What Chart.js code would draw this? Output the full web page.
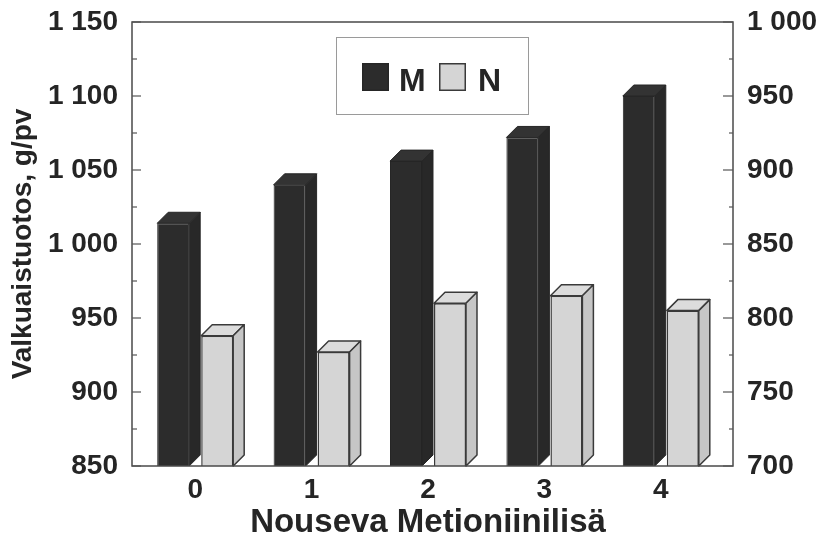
<!DOCTYPE html>
<html>
<head>
<meta charset="utf-8">
<script src="https://cdn.jsdelivr.net/npm/chart.js@4.4.0/dist/chart.umd.min.js"></script>
<style>
  html, body { margin: 0; padding: 0; background: #fff; }
  canvas { display: block; }
</style>
</head>
<body>
<canvas id="c" width="822" height="544"></canvas>
<script>
// Categories and series values
const categories = ['0', '1', '2', '3', '4'];
const seriesNames = ['M', 'N'];
const seriesM = [1014, 1040, 1056, 1072, 1100];
const seriesN = [788, 777, 810, 815, 805];
// Tick values of the two value axes
const leftTicks = [850, 900, 950, 1000, 1050, 1100, 1150];
const rightTicks = [700, 750, 800, 850, 900, 950, 1000];
const xTitle = 'Nouseva Metioniinilisä';
const yTitle = 'Valkuaistuotos, g/pv';

const FONT = '"Liberation Sans", Arial, Helvetica, sans-serif';
const INK = '#252525';
const DEPTH = 11;          // depth of the pseudo-3D columns
const FRAME_L = 5;         // frame sits this far left of the category band
const FRAME_R = 14;        // and this far right of it

function spaced(v) {
  return String(v).replace(/\B(?=(\d{3})+(?!\d))/g, '\u00a0');
}

function fixedTicks(list) {
  return scale => { scale.ticks = list.map(v => ({ value: v })); };
}

// fixed axis width; keep only half a label of vertical overhang
function fitWidth(w) {
  return scale => {
    scale.width = w;
    scale.paddingTop = 16;
    scale.paddingBottom = 16;
  };
}

// Top and side faces of each column, drawn from the bar elements' geometry
const columns3d = {
  id: 'columns3d',
  afterDatasetsDraw(chart) {
    const ctx = chart.ctx;
    const floor = chart.chartArea.bottom;
    chart.data.datasets.forEach((ds, i) => {
      const meta = chart.getDatasetMeta(i);
      meta.data.forEach(bar => {
        const p = bar.getProps(['x', 'y', 'base', 'width'], true);
        const x = p.x, y = p.y, w = p.width;
        const base = Math.min(p.base, floor);
        const l = x - w / 2, r = x + w / 2;
        ctx.save();
        ctx.lineWidth = ds.borderWidth;
        ctx.strokeStyle = ds.borderColor;
        ctx.lineJoin = 'round';
        ctx.beginPath();
        ctx.moveTo(l, y);
        ctx.lineTo(l + DEPTH, y - DEPTH);
        ctx.lineTo(r + DEPTH, y - DEPTH);
        ctx.lineTo(r, y);
        ctx.closePath();
        ctx.fillStyle = ds.topColor;
        ctx.fill();
        ctx.stroke();
        ctx.beginPath();
        ctx.moveTo(r, y);
        ctx.lineTo(r + DEPTH, y - DEPTH);
        ctx.lineTo(r + DEPTH, base - DEPTH);
        ctx.lineTo(r, base);
        ctx.closePath();
        ctx.fillStyle = ds.sideColor;
        ctx.fill();
        ctx.stroke();
        ctx.restore();
      });
    });
  }
};

// Plot frame, inward tick marks (major and half-step minor) and the boxed legend
const frameAndLegend = {
  id: 'frameAndLegend',
  afterDraw(chart) {
    const ctx = chart.ctx;
    const a = chart.chartArea;
    const L = a.left - FRAME_L, R = a.right + FRAME_R, T = a.top, B = a.bottom;
    ctx.save();
    ctx.strokeStyle = '#4a4a4a';
    ctx.lineWidth = 1.5;
    ctx.strokeRect(L, T, R - L, B - T);

    const yS = chart.scales.y, y2S = chart.scales.y2;
    ctx.lineWidth = 1.2;
    ctx.strokeStyle = '#555';
    const mark = (py, len) => {
      ctx.beginPath(); ctx.moveTo(L, py); ctx.lineTo(L + len, py); ctx.stroke();
    };
    const mark2 = (py, len) => {
      ctx.beginPath(); ctx.moveTo(R, py); ctx.lineTo(R - len, py); ctx.stroke();
    };
    leftTicks.forEach((v, k) => {
      mark(yS.getPixelForValue(v), 9);
      if (k > 0) mark(yS.getPixelForValue((v + leftTicks[k - 1]) / 2), 5);
    });
    rightTicks.forEach((v, k) => {
      mark2(y2S.getPixelForValue(v), 10);
      if (k > 0) mark2(y2S.getPixelForValue((v + rightTicks[k - 1]) / 2), 4);
    });

    // legend box
    ctx.lineWidth = 1;
    ctx.strokeStyle = '#9a9a9a';
    ctx.fillStyle = '#fff';
    ctx.fillRect(336.5, 37.5, 192, 77);
    ctx.strokeRect(336.5, 37.5, 192, 77);
    ctx.font = 'bold 32px ' + FONT;
    ctx.textBaseline = 'alphabetic';
    ctx.textAlign = 'left';
    const items = [
      { sx: 362, tx: 399 },
      { sx: 439, tx: 478 }
    ];
    chart.data.datasets.forEach((ds, i) => {
      const it = items[i];
      ctx.fillStyle = ds.backgroundColor;
      ctx.fillRect(it.sx, 63, 27, 28);
      ctx.lineWidth = 1.5;
      ctx.strokeStyle = ds.borderColor;
      ctx.strokeRect(it.sx + 0.75, 63.75, 25.5, 26.5);
      ctx.fillStyle = INK;
      ctx.fillText(ds.label, it.tx, 90.5);
    });
    ctx.restore();
  }
};

const tickFont = { family: FONT, size: 28, weight: 'bold' };

new Chart(document.getElementById('c'), {
  type: 'bar',
  data: {
    labels: categories,
    datasets: [
      {
        label: seriesNames[0],
        data: seriesM,
        yAxisID: 'y',
        backgroundColor: '#2c2c2c',
        borderColor: '#262626',
        topColor: '#333333',
        sideColor: '#282828',
        borderWidth: 1,
        borderSkipped: false,
        categoryPercentage: 0.756,
        barPercentage: 0.727
      },
      {
        label: seriesNames[1],
        data: seriesN,
        yAxisID: 'y2',
        backgroundColor: '#d5d5d5',
        borderColor: '#3a3a3a',
        topColor: '#dcdcdc',
        sideColor: '#c6c6c6',
        borderWidth: 1.5,
        borderSkipped: false,
        categoryPercentage: 0.756,
        barPercentage: 0.727
      }
    ]
  },
  options: {
    responsive: false,
    animation: false,
    layout: { padding: { top: 22, left: 0, right: 0, bottom: 0 } },
    plugins: {
      legend: { display: false },
      tooltip: { enabled: false }
    },
    scales: {
      x: {
        grid: { display: false, drawTicks: false },
        border: { display: false },
        ticks: { color: INK, font: tickFont, padding: 7, maxRotation: 0 },
        title: {
          display: true, text: xTitle, color: INK,
          font: { family: FONT, size: 33, weight: 'bold' },
          padding: { top: 0, bottom: 1 }
        },
        afterFit: s => { s.height = 78; }
      },
      y: {
        position: 'left',
        min: leftTicks[0],
        max: leftTicks[leftTicks.length - 1],
        afterBuildTicks: fixedTicks(leftTicks),
        grid: { display: false, drawTicks: false },
        border: { display: false },
        ticks: { color: INK, font: tickFont, padding: 19, callback: v => spaced(v) },
        title: {
          display: true, text: yTitle, color: INK,
          font: { family: FONT, size: 28, weight: 'bold' },
          padding: { top: 6, bottom: 0 }
        },
        afterFit: fitWidth(137)
      },
      y2: {
        position: 'right',
        min: rightTicks[0],
        max: rightTicks[rightTicks.length - 1],
        afterBuildTicks: fixedTicks(rightTicks),
        grid: { display: false, drawTicks: false },
        border: { display: false },
        ticks: { color: INK, font: tickFont, padding: 28, callback: v => spaced(v) },
        afterFit: fitWidth(103)
      }
    }
  },
  plugins: [columns3d, frameAndLegend]
});
</script>
</body>
</html>
